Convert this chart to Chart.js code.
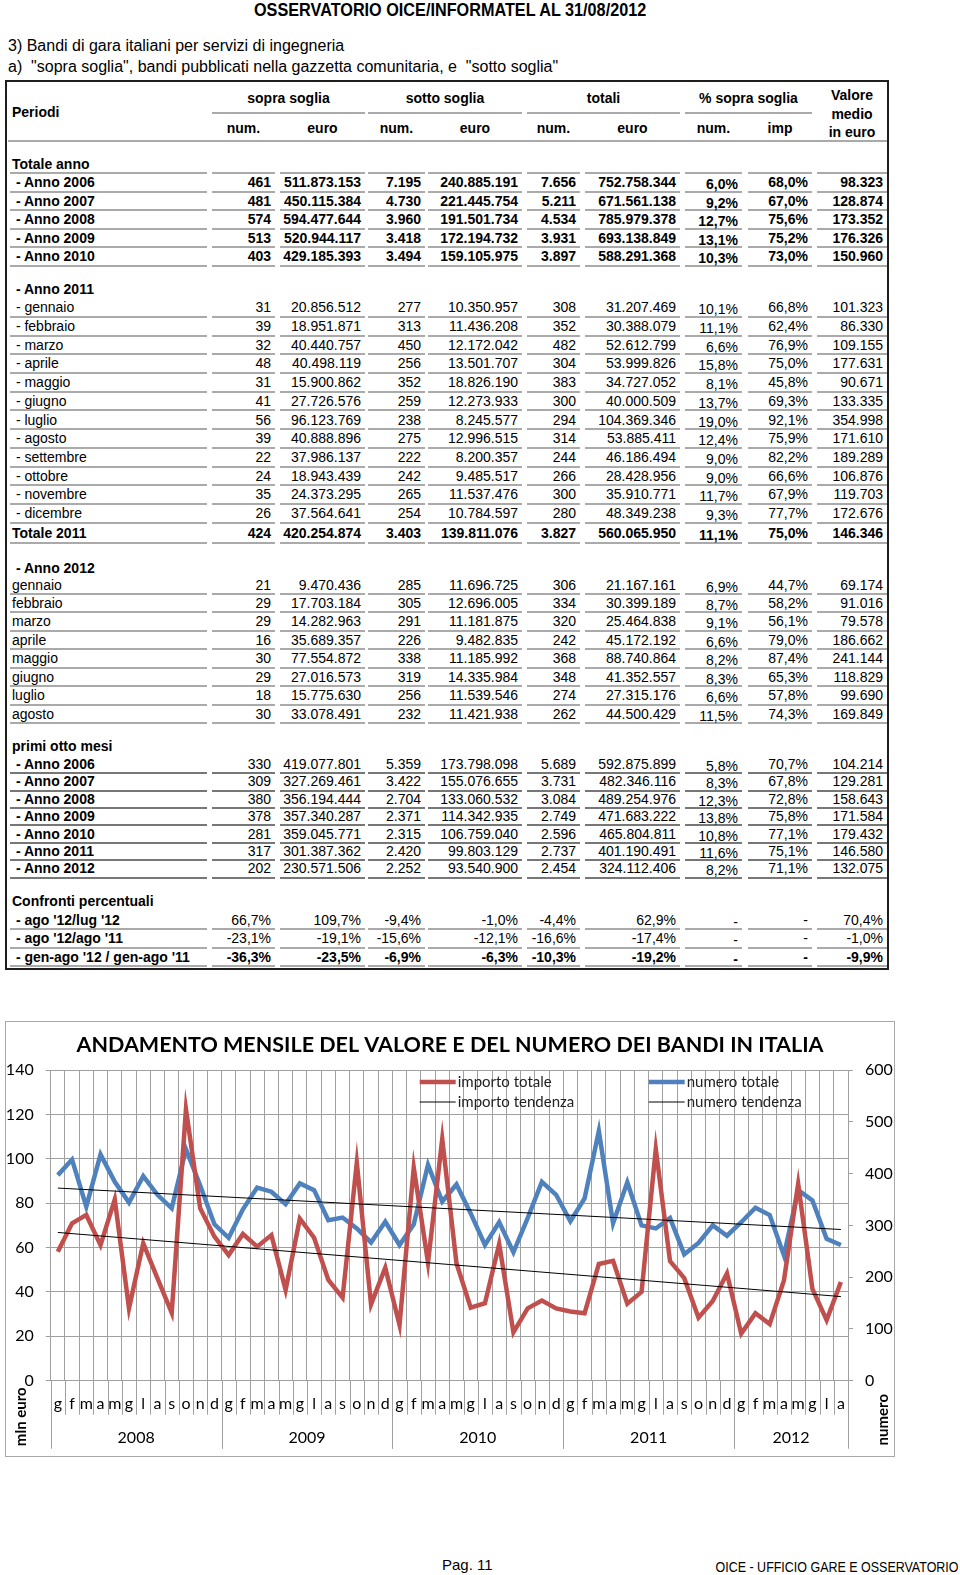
<!DOCTYPE html>
<html lang="it">
<head>
<meta charset="utf-8">
<title>Osservatorio OICE/Informatel al 31/08/2012</title>
<script src="https://cdn.jsdelivr.net/npm/chart.js@4.4.1/dist/chart.umd.min.js"></script>
<style>
  html, body { margin: 0; padding: 0; background: #fff; }
  body { position: relative; width: 960px; height: 1575px; overflow: hidden; font-family: "Liberation Sans", Arial, sans-serif; color: #000; }
  .t { position: absolute; white-space: pre; }
  .cell { position: absolute; box-sizing: border-box; white-space: pre; font-size: 14px; }
  #tableBox { position: absolute; left: 5px; top: 80px; width: 884px; height: 890px; border: 2px solid #1e1e1e; box-sizing: border-box; }
  #chartBox { position: absolute; left: 5px; top: 1021px; width: 890px; height: 436px; border: 1px solid #a8a8a8; box-sizing: border-box; background: #fff; }
  #chart { display: block; }
</style>
</head>
<body>
<div class="t" style="left:254px; top:0; font: bold 19px 'Liberation Sans', sans-serif; line-height:20px; transform: scaleX(0.854); transform-origin: left center;">OSSERVATORIO OICE/INFORMATEL AL 31/08/2012</div>
<div class="t" style="left:8px; top:37px; font-size:16px; line-height:18px;">3) Bandi di gara italiani per servizi di ingegneria</div>
<div class="t" style="left:8px; top:58px; font-size:16px; line-height:18px;">a)  "sopra soglia", bandi pubblicati nella gazzetta comunitaria, e  "sotto soglia"</div>
<div id="tableBox"></div>
<div id="chartBox"><canvas id="chart" width="888" height="434"></canvas></div>
<div class="t" style="left:442px; top:1556px; font-size:15px; line-height:18px;">Pag. 11</div>
<div class="t" style="right:1px; top:1558px; font-size:14.5px; line-height:18px; transform: scaleX(0.86); transform-origin: right center;">OICE - UFFICIO GARE E OSSERVATORIO</div>

<script>
// ---- table data ----
const annualTotals = [
    [" - Anno 2006", "461", "511.873.153", "7.195", "240.885.191", "7.656", "752.758.344", "6,0%", "68,0%", "98.323"],
    [" - Anno 2007", "481", "450.115.384", "4.730", "221.445.754", "5.211", "671.561.138", "9,2%", "67,0%", "128.874"],
    [" - Anno 2008", "574", "594.477.644", "3.960", "191.501.734", "4.534", "785.979.378", "12,7%", "75,6%", "173.352"],
    [" - Anno 2009", "513", "520.944.117", "3.418", "172.194.732", "3.931", "693.138.849", "13,1%", "75,2%", "176.326"],
    [" - Anno 2010", "403", "429.185.393", "3.494", "159.105.975", "3.897", "588.291.368", "10,3%", "73,0%", "150.960"]
]

const months2011 = [
    [" - gennaio", "31", "20.856.512", "277", "10.350.957", "308", "31.207.469", "10,1%", "66,8%", "101.323"],
    [" - febbraio", "39", "18.951.871", "313", "11.436.208", "352", "30.388.079", "11,1%", "62,4%", "86.330"],
    [" - marzo", "32", "40.440.757", "450", "12.172.042", "482", "52.612.799", "6,6%", "76,9%", "109.155"],
    [" - aprile", "48", "40.498.119", "256", "13.501.707", "304", "53.999.826", "15,8%", "75,0%", "177.631"],
    [" - maggio", "31", "15.900.862", "352", "18.826.190", "383", "34.727.052", "8,1%", "45,8%", "90.671"],
    [" - giugno", "41", "27.726.576", "259", "12.273.933", "300", "40.000.509", "13,7%", "69,3%", "133.335"],
    [" - luglio", "56", "96.123.769", "238", "8.245.577", "294", "104.369.346", "19,0%", "92,1%", "354.998"],
    [" - agosto", "39", "40.888.896", "275", "12.996.515", "314", "53.885.411", "12,4%", "75,9%", "171.610"],
    [" - settembre", "22", "37.986.137", "222", "8.200.357", "244", "46.186.494", "9,0%", "82,2%", "189.289"],
    [" - ottobre", "24", "18.943.439", "242", "9.485.517", "266", "28.428.956", "9,0%", "66,6%", "106.876"],
    [" - novembre", "35", "24.373.295", "265", "11.537.476", "300", "35.910.771", "11,7%", "67,9%", "119.703"],
    [" - dicembre", "26", "37.564.641", "254", "10.784.597", "280", "48.349.238", "9,3%", "77,7%", "172.676"]
]
const total2011 = ["Totale 2011", "424", "420.254.874", "3.403", "139.811.076", "3.827", "560.065.950", "11,1%", "75,0%", "146.346"]

const months2012 = [
    ["gennaio", "21", "9.470.436", "285", "11.696.725", "306", "21.167.161", "6,9%", "44,7%", "69.174"],
    ["febbraio", "29", "17.703.184", "305", "12.696.005", "334", "30.399.189", "8,7%", "58,2%", "91.016"],
    ["marzo", "29", "14.282.963", "291", "11.181.875", "320", "25.464.838", "9,1%", "56,1%", "79.578"],
    ["aprile", "16", "35.689.357", "226", "9.482.835", "242", "45.172.192", "6,6%", "79,0%", "186.662"],
    ["maggio", "30", "77.554.872", "338", "11.185.992", "368", "88.740.864", "8,2%", "87,4%", "241.144"],
    ["giugno", "29", "27.016.573", "319", "14.335.984", "348", "41.352.557", "8,3%", "65,3%", "118.829"],
    ["luglio", "18", "15.775.630", "256", "11.539.546", "274", "27.315.176", "6,6%", "57,8%", "99.690"],
    ["agosto", "30", "33.078.491", "232", "11.421.938", "262", "44.500.429", "11,5%", "74,3%", "169.849"]
]

const firstEightMonths = [
    [" - Anno 2006", "330", "419.077.801", "5.359", "173.798.098", "5.689", "592.875.899", "5,8%", "70,7%", "104.214"],
    [" - Anno 2007", "309", "327.269.461", "3.422", "155.076.655", "3.731", "482.346.116", "8,3%", "67,8%", "129.281"],
    [" - Anno 2008", "380", "356.194.444", "2.704", "133.060.532", "3.084", "489.254.976", "12,3%", "72,8%", "158.643"],
    [" - Anno 2009", "378", "357.340.287", "2.371", "114.342.935", "2.749", "471.683.222", "13,8%", "75,8%", "171.584"],
    [" - Anno 2010", "281", "359.045.771", "2.315", "106.759.040", "2.596", "465.804.811", "10,8%", "77,1%", "179.432"],
    [" - Anno 2011", "317", "301.387.362", "2.420", "99.803.129", "2.737", "401.190.491", "11,6%", "75,1%", "146.580"],
    [" - Anno 2012", "202", "230.571.506", "2.252", "93.540.900", "2.454", "324.112.406", "8,2%", "71,1%", "132.075"]
]

const comparisons = [
    [" - ago '12/lug '12", "66,7%", "109,7%", "-9,4%", "-1,0%", "-4,4%", "62,9%", "-", "-", "70,4%"],
    [" - ago '12/ago '11", "-23,1%", "-19,1%", "-15,6%", "-12,1%", "-16,6%", "-17,4%", "-", "-", "-1,0%"],
    [" - gen-ago '12 / gen-ago '11", "-36,3%", "-23,5%", "-6,9%", "-6,3%", "-10,3%", "-19,2%", "-", "-", "-9,9%"]
]

// ---- chart data: importo in mln euro, numero of bandi, per month ----
const monthLetters = ["g", "f", "m", "a", "m", "g", "l", "a", "s", "o", "n", "d"]
const years = ["2008", "2009", "2010", "2011", "2012"]
const monthsInYear = [12, 12, 12, 12, 8]

const importo2008 = [58.1, 70.9, 74.7, 61.1, 81.7, 32.6, 61.9, 46.1, 30.6, 122.3, 77.7, 64.9]
const importo2009 = [56.6, 66.1, 60.4, 65.6, 40.9, 73.0, 64.4, 45.4, 37.4, 98.2, 34.4, 50.9]
const importo2010 = [25.1, 96.0, 53.2, 108.9, 52.9, 32.9, 34.9, 61.6, 21.8, 32.6, 36.1, 32.6]
const importo2011 = [31.2, 30.4, 52.6, 54.0, 34.7, 40.0, 104.4, 53.9, 46.2, 28.4, 35.9, 48.3]
const importo2012 = [21.2, 30.4, 25.5, 45.2, 88.7, 41.4, 27.3, 44.5]

const numero2008 = [397, 427, 336, 437, 384, 344, 395, 359, 333, 447, 377, 302]
const numero2009 = [276, 331, 373, 365, 341, 381, 368, 310, 315, 294, 267, 307]
const numero2010 = [262, 302, 417, 346, 379, 323, 262, 306, 248, 314, 384, 359]
const numero2011 = [308, 352, 482, 304, 383, 300, 294, 314, 244, 266, 300, 280]
const numero2012 = [306, 334, 320, 242, 368, 348, 274, 262]

// trend lines: value at first and last month
const importoTendenza = [66.8, 37.9]
const numeroTendenza = [372, 292]

const leftMax = 140, leftStep = 20
const rightMax = 600, rightStep = 100

// ---- table ----
const colEdges = [[10, 207], [212, 275], [280, 365], [368, 425], [428, 522], [527, 580], [585, 680], [685, 742], [748, 812], [817, 887]]
const lineGray = "#aaaaaa"

function box(txt, l, w, top, h, css) {
    const d = document.createElement("div")
    d.className = "cell"
    d.textContent = txt
    Object.assign(d.style, { left: l + "px", width: w + "px", top: top + "px", height: h + "px", lineHeight: h + "px" }, css || {})
    document.body.appendChild(d)
    return d
}

function rule(l, r, y, color) {
    const d = document.createElement("div")
    Object.assign(d.style, { position: "absolute", left: l + "px", width: (r - l) + "px", top: y + "px", height: "2px", background: color || lineGray })
    document.body.appendChild(d)
}

function row(cells, lineY, h, opts) {
    colEdges.forEach(([l, r], c) => {
        const txt = cells[c] || ""
        const d = box(txt, l, r - l, lineY - h, h, {
            lineHeight: (h - 2) + "px",
            textAlign: c === 0 ? "left" : "right",
            paddingLeft: c === 0 ? "2px" : "0",
            paddingRight: c === 0 ? "0" : "4px",
            fontWeight: (c === 0 ? opts.boldLabel : opts.boldValues) ? "bold" : "normal",
            borderBottom: opts.line ? "2px solid " + (opts.lineColor || lineGray) : "none"
        })
        if (c === 7 && txt) d.style.paddingTop = "2px"  // % num column sits a bit lower
    })
}

// header
box("Periodi", 12, 150, 103, 18, { fontWeight: "bold" })
const groups = [[1, 2, "sopra soglia"], [3, 4, "sotto soglia"], [5, 6, "totali"], [7, 8, "% sopra soglia"]]
groups.forEach(([a, b, name]) => {
    const l = colEdges[a][0], r = colEdges[b][1]
    box(name, l, r - l, 89, 18, { fontWeight: "bold", textAlign: "center" })
    rule(l, r, 112)
})
for (let c = 1; c <= 8; c++) {
    const [l, r] = colEdges[c]
    const name = c === 8 ? "imp" : (c % 2 ? "num." : "euro")
    box(name, l, r - l, 119, 18, { fontWeight: "bold", textAlign: "center" })
}
const [vl, vr] = colEdges[9]
box("Valore", vl, vr - vl, 86, 18, { fontWeight: "bold", textAlign: "center" })
box("medio", vl, vr - vl, 105, 18, { fontWeight: "bold", textAlign: "center" })
box("in euro", vl, vr - vl, 123, 18, { fontWeight: "bold", textAlign: "center" })
rule(8, 887, 140)

// body
row(["Totale anno"], 174, 18.5, { boldLabel: true, line: true })
annualTotals.forEach((r, i) => row(r, 192.5 + 18.5 * i, 18.5, { boldLabel: true, boldValues: true, line: true }))
row([" - Anno 2011"], 299.5, 18.66, { boldLabel: true })
months2011.forEach((r, i) => row(r, 318 + 18.7 * i, 18.7, { line: true }))
row(total2011, 544, 20, { boldLabel: true, boldValues: true, line: true })
row([" - Anno 2012"], 578, 18.4, { boldLabel: true })
months2012.forEach((r, i) => row(r, 595 + 18.43 * i, 18.43, { line: true }))
row(["primi otto mesi"], 756, 18, { boldLabel: true })
firstEightMonths.forEach((r, i) => row(r, 774.3 + 17.4 * i, 17.4, { boldLabel: true, line: true, lineColor: "#777" }))
row(["Confronti percentuali"], 911, 18, { boldLabel: true })
comparisons.forEach((r, i) => row(r, 930 + 18.5 * i, 18.5, { boldLabel: true, boldValues: i === 2, line: true }))

// ---- chart ----
const gridColor = "#a0a0a0"
const labels = years.flatMap((y, i) => monthLetters.slice(0, monthsInYear[i]))
const importo = [...importo2008, ...importo2009, ...importo2010, ...importo2011, ...importo2012]
const numero = [...numero2008, ...numero2009, ...numero2010, ...numero2011, ...numero2012]
const lastIndex = labels.length - 1
const trendData = ends => labels.map((_, i) => i === 0 ? ends[0] : (i === lastIndex ? ends[1] : null))

const RED = "#c0504d"
const BLUE = "#4f81bd"

const decor = {
    id: "decor",
    beforeDraw(chart) {
        const ctx = chart.ctx
        ctx.save()
        ctx.fillStyle = "#fff"
        ctx.fillRect(0, 0, chart.width, chart.height)
        ctx.restore()
    },
    afterDraw(chart) {
        const { ctx, chartArea: area, scales: { x } } = chart
        const step = x.getPixelForValue(1) - x.getPixelForValue(0)
        const edge = i => x.getPixelForValue(0) - step / 2 + i * step

        ctx.save()
        ctx.strokeStyle = gridColor
        ctx.lineWidth = 1

        // separators between month letters
        for (let i = 0; i <= labels.length; i++) {
            const px = Math.round(edge(i)) + 0.5
            ctx.beginPath()
            ctx.moveTo(px, area.bottom)
            ctx.lineTo(px, area.bottom + 34)
            ctx.stroke()
        }

        // year separators and year labels
        ctx.fillStyle = "#000"
        ctx.font = "16px Lato"
        ctx.textAlign = "center"
        ctx.textBaseline = "middle"
        let start = 0
        years.forEach((y, k) => {
            const end = start + monthsInYear[k]
            ;[start, end].forEach(i => {
                const px = Math.round(edge(i)) + 0.5
                ctx.beginPath()
                ctx.moveTo(px, area.bottom)
                ctx.lineTo(px, area.bottom + 68)
                ctx.stroke()
            })
            ctx.fillText(y, (edge(start) + edge(end)) / 2, area.bottom + 57)
            start = end
        })

        // axis titles
        ctx.font = "bold 15px Lato"
        ctx.save()
        ctx.translate(area.left - 30, area.bottom + 36)
        ctx.rotate(-Math.PI / 2)
        ctx.fillText("mln euro", 0, 0)
        ctx.restore()
        ctx.save()
        ctx.translate(area.right + 35, area.bottom + 39)
        ctx.rotate(-Math.PI / 2)
        ctx.fillText("numero", 0, 0)
        ctx.restore()

        // legend (two columns, two rows)
        const items = [
            [2, 369, 12], [0, 369, 32],
            [3, 598, 12], [1, 598, 32]
        ]
        ctx.font = "15px Lato"
        ctx.textAlign = "left"
        items.forEach(([di, dx, dy]) => {
            const ds = chart.data.datasets[di]
            const lx = area.left + dx, ly = area.top + dy
            ctx.strokeStyle = ds.borderColor
            ctx.lineWidth = ds.borderWidth
            ctx.beginPath()
            ctx.moveTo(lx, ly)
            ctx.lineTo(lx + 36, ly)
            ctx.stroke()
            ctx.fillStyle = "#222"
            ctx.fillText(ds.label, lx + 38, ly)
        })
        ctx.restore()
    }
}

const tickFont = { family: "Lato", size: 16 }

new Chart(document.getElementById("chart"), {
    type: "line",
    data: {
        labels: labels,
        datasets: [
            { label: "importo tendenza", data: trendData(importoTendenza), yAxisID: "y", borderColor: "#000", borderWidth: 1, spanGaps: true, pointRadius: 0 },
            { label: "numero tendenza", data: trendData(numeroTendenza), yAxisID: "y1", borderColor: "#000", borderWidth: 1, spanGaps: true, pointRadius: 0 },
            { label: "importo totale", data: importo, yAxisID: "y", borderColor: RED, borderWidth: 4.5, pointRadius: 0 },
            { label: "numero totale", data: numero, yAxisID: "y1", borderColor: BLUE, borderWidth: 4.5, pointRadius: 0 }
        ]
    },
    options: {
        responsive: false,
        animation: false,
        devicePixelRatio: 1,
        layout: { padding: 0 },
        plugins: {
            legend: { display: false },
            tooltip: { enabled: false },
            title: {
                display: true,
                text: "ANDAMENTO MENSILE DEL VALORE E DEL NUMERO DEI BANDI IN ITALIA",
                color: "#000",
                font: { family: "Lato", size: 21.5, weight: "bold", lineHeight: 1.2 },
                padding: { top: 10.1, bottom: 12.1 }
            }
        },
        scales: {
            x: {
                type: "category",
                offset: true,
                grid: { offset: true, color: gridColor, drawTicks: false },
                border: { color: gridColor },
                ticks: { autoSkip: false, maxRotation: 0, color: "#000", font: tickFont, padding: 14 },
                afterFit: s => { s.height = 75.3 }
            },
            y: {
                position: "left",
                min: 0,
                max: leftMax,
                ticks: { stepSize: leftStep, color: "#000", font: tickFont, padding: 12 },
                grid: { color: gridColor, tickLength: 5 },
                border: { color: gridColor },
                afterFit: s => { s.width = 44.7 }
            },
            y1: {
                position: "right",
                min: 0,
                max: rightMax,
                ticks: { stepSize: rightStep, color: "#000", font: tickFont, padding: 12 },
                grid: { drawOnChartArea: false, color: gridColor, tickLength: 5 },
                border: { color: gridColor },
                afterFit: s => { s.width = 46 }
            }
        }
    },
    plugins: [decor]
})
</script>
</body>
</html>
